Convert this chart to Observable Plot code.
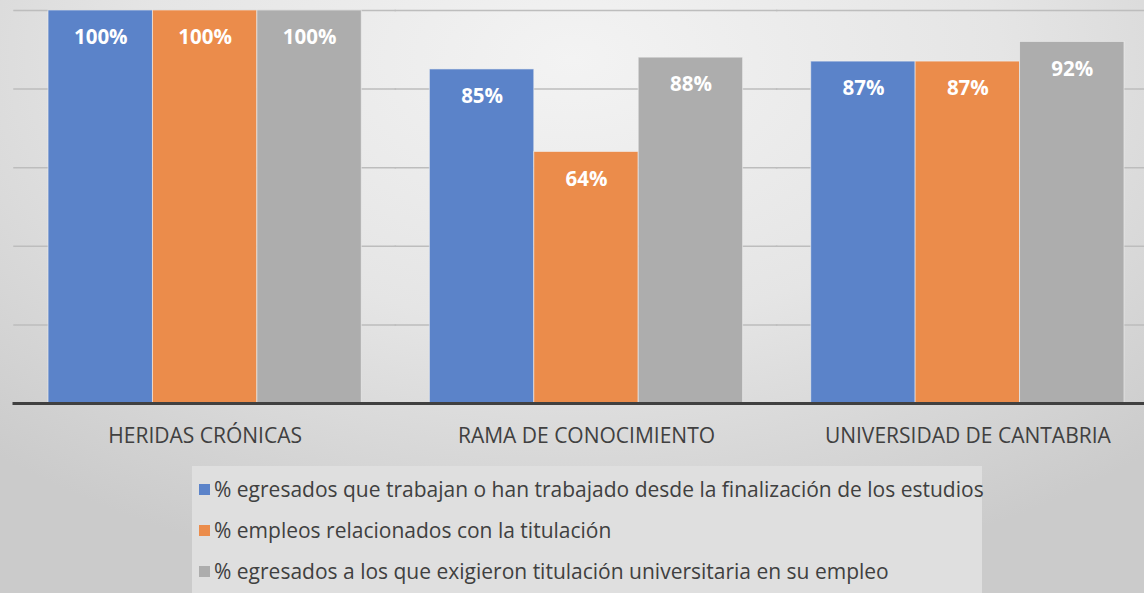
<!DOCTYPE html>
<html><head><meta charset="utf-8">
<script src="https://cdn.jsdelivr.net/npm/d3@7"></script>
<script src="https://cdn.jsdelivr.net/npm/@observablehq/plot@0.6"></script>
<style>
html,body{margin:0;padding:0;overflow:hidden;}
body{width:1144px;height:593px;font-family:"Open Sans",sans-serif;
background:radial-gradient(ellipse 75% 90% at 50% 10%, #f3f3f3 0%, #e5e5e5 50%, #cbcbcb 100%);}
#chart svg{display:block;overflow:visible;background:transparent;}
#legend{position:absolute;left:192px;top:466px;width:790px;height:140px;background:#dfdfdf;}
.item{position:absolute;left:7px;display:flex;align-items:center;font-size:21px;line-height:24px;color:#404040;white-space:nowrap;}
.sw{width:11px;height:11px;margin-right:4px;}
</style></head>
<body>
<div id="chart"></div>
<div id="legend"></div>
<script>
const categories = ["HERIDAS CRÓNICAS", "RAMA DE CONOCIMIENTO", "UNIVERSIDAD DE CANTABRIA"];
const seriesNames = [
  "% egresados que trabajan o han trabajado desde la finalización de los estudios",
  "% empleos relacionados con la titulación",
  "% egresados a los que exigieron titulación universitaria en su empleo"
];
const trabajan = [100, 85, 87];
const relacionados = [100, 64, 87];
const exigieron = [100, 88, 92];
const colors = ["#5b83c9", "#eb8c4b", "#adadad"];
const gridTicks = [20, 40, 60, 80, 100];

const seriesValues = [trabajan, relacionados, exigieron];
const data = [];
categories.forEach((c, i) => seriesNames.forEach((s, j) => data.push({category: c, series: s, value: seriesValues[j][i]})));

const chart = Plot.plot({
  width: 1144, height: 460,
  marginTop: 10, marginBottom: 57, marginLeft: 14, marginRight: 0,
  style: {fontSize: "21px", fontFamily: "Open Sans, sans-serif", color: "#404040", background: "transparent"},
  fx: {domain: categories, range: [14, 1158], padding: 0, round: false, label: null, axis: "bottom", tickSize: 0, tickPadding: 25},
  x: {domain: seriesNames, paddingInner: 0, paddingOuter: 0.326, round: false, axis: null},
  y: {domain: [0, 100], axis: null},
  color: {domain: seriesNames, range: colors},
  facet: {data, x: "category"},
  marks: [
    Plot.ruleY(gridTicks, {stroke: "#bdbdbd", strokeWidth: 1.5, strokeLinecap: "square"}),
    Plot.barY(data, {x: "series", y: "value", fill: "series", stroke: "#f2f2f2", strokeOpacity: 0.6, strokeWidth: 1}),
    Plot.text(data, {x: "series", y: "value", text: d => d.value + "%", dy: 27, fill: "white", fontSize: 20.5, fontWeight: "bold"}),
    Plot.ruleY([0], {stroke: "#404040", strokeWidth: 3, strokeLinecap: "square"})
  ]
});
document.getElementById("chart").appendChild(chart);

const legend = document.getElementById("legend");
seriesNames.forEach((s, j) => {
  const it = document.createElement("div");
  it.className = "item";
  it.style.top = (11 + j * 41) + "px";
  const sw = document.createElement("span");
  sw.className = "sw"; sw.style.background = colors[j];
  const tx = document.createElement("span"); tx.textContent = s;
  it.appendChild(sw); it.appendChild(tx);
  legend.appendChild(it);
});
</script>
</body></html>
